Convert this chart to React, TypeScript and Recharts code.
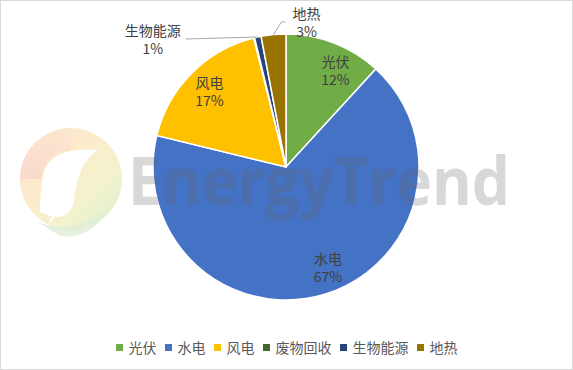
import { PieChart, Pie, Cell, Legend } from 'recharts'

const CATEGORIES = ['光伏', '水电', '风电', '废物回收', '生物能源', '地热']
const SHARES = [11.8, 67.0, 17.3, 0.1, 0.8, 3.0]
const COLOURS = ['#70AD47', '#4472C4', '#FFC000', '#43682B', '#264478', '#997300']

const FONT = '"Noto Sans CJK SC", "Noto Sans", sans-serif'
const TEXT = '#404040'
const RAD = Math.PI / 180

const data = CATEGORIES.map((name, i) => ({ name, value: SHARES[i] }))

// hand-placed label tweaks (excel moved these around)
const INSIDE_NUDGE: Record<string, [number, number]> = {
  光伏: [11, 2],
  水电: [11, -2],
  风电: [-1, -1],
}
const OUTSIDE: Record<string, { text: [number, number]; line: [number, number][] }> = {
  生物能源: { text: [-105, 2], line: [[-72, 2]] },
  地热: { text: [33, -13], line: [[8, -12.6], [12, -12.6]] },
}

function renderLabel(props: any) {
  const { cx, cy, midAngle, outerRadius, percent, name } = props
  const pct = `${Math.round(percent * 100)}%`
  const cos = Math.cos(-midAngle * RAD)
  const sin = Math.sin(-midAngle * RAD)

  const twoLines = (x: number, y: number) => (
    <>
      <text x={x} y={y - 3} textAnchor="middle" fill={TEXT} fontSize={14} fontFamily={FONT}>{name}</text>
      <text x={x} y={y + 15} textAnchor="middle" fill={TEXT} fontSize={14} fontFamily={FONT}>{pct}</text>
    </>
  )

  if (INSIDE_NUDGE[name]) {
    const [nx, ny] = INSIDE_NUDGE[name]
    const r = outerRadius * 0.8
    return <g key={name}>{twoLines(cx + r * cos + nx, cy + r * sin + ny)}</g>
  }
  const out = OUTSIDE[name]
  if (!out) return null
  const px = cx + outerRadius * cos
  const py = cy + outerRadius * sin
  const pts = [[px, py], ...out.line.map(([dx, dy]) => [px + dx, py + dy])]
  return (
    <g key={name}>
      <polyline points={pts.map((p) => p.join(',')).join(' ')} fill="none" stroke="#a6a6a6" strokeWidth={1} />
      {twoLines(px + out.text[0], py + out.text[1])}
    </g>
  )
}

function LegendRow() {
  return (
    <div style={{ display: 'flex', justifyContent: 'center', alignItems: 'center', fontFamily: FONT, fontSize: 14, color: '#595959', height: 18 }}>
      {CATEGORIES.map((c, i) => (
        <div key={c} style={{ display: 'flex', alignItems: 'center', marginRight: i < CATEGORIES.length - 1 ? 8 : 0 }}>
          <span style={{ width: 7, height: 7, background: COLOURS[i], marginRight: 6, display: 'inline-block' }} />
          <span style={{ lineHeight: '18px' }}>{c}</span>
        </div>
      ))}
    </div>
  )
}

function Watermark() {
  return (
    <svg width={573} height={370} style={{ position: 'absolute', left: 0, top: 0, pointerEvents: 'none' }}>
      <defs>
        <linearGradient id="ring" x1="0" y1="0" x2="1" y2="1">
          <stop offset="0%" stopColor="#fbe2d0" />
          <stop offset="40%" stopColor="#fdeccc" />
          <stop offset="70%" stopColor="#f1f3cd" />
          <stop offset="100%" stopColor="#dcebd4" />
        </linearGradient>
        <linearGradient id="ringLeft" x1="0" y1="0" x2="0" y2="1">
          <stop offset="0%" stopColor="#fde7cf" />
          <stop offset="100%" stopColor="#f8d6cc" />
        </linearGradient>
      </defs>
      <circle cx={71} cy={179} r={51} fill="url(#ring)" />
      <path d="M 20 179 A 51 51 0 0 1 71 128 L 71 150 A 29 29 0 0 0 42 179 Z" fill="url(#ringLeft)" opacity={0.8} />
      <path d="M 42 182 Q 44 146 98 150 Q 78 162 74 200 Q 70 226 40 212 Q 40 196 42 182 Z" fill="#fff" />
      <path d="M 82 166 Q 66 196 50 222" fill="none" stroke="#fff" strokeWidth={2} />
      <path d="M 38 222 Q 70 236 108 210 Q 90 240 60 236 Z" fill="#dfeed6" opacity={0.8} />
      <text
        x={128}
        y={205}
        fontSize={66}
        fontWeight={700}
        fontFamily='"Open Sans", "DejaVu Sans", sans-serif'
        textLength={382}
        lengthAdjust="spacingAndGlyphs"
        fill="#666666"
        opacity={0.25}
      >
        EnergyTrend
      </text>
    </svg>
  )
}

export default function App() {
  return (
    <div
      style={{
        position: 'absolute',
        left: 0,
        top: 0,
        width: 573,
        height: 370,
        boxSizing: 'border-box',
        border: '1px solid #d9d9d9',
        background: '#fff',
      }}
    >
      <div style={{ position: 'absolute', left: -1, top: -1 }}>
        <PieChart width={573} height={370} margin={{ top: 0, right: 0, bottom: 0, left: 0 }}>
          <Pie
            data={data}
            dataKey="value"
            nameKey="name"
            cx={286}
            cy={167}
            outerRadius={133}
            startAngle={90}
            endAngle={-270}
            stroke="#ffffff"
            strokeWidth={1.5}
            label={renderLabel}
            labelLine={false}
            isAnimationActive={false}
          >
            {data.map((d, i) => (
              <Cell key={d.name} fill={COLOURS[i]} />
            ))}
          </Pie>
          <Legend content={() => <LegendRow />} wrapperStyle={{ top: 338, left: 0, width: 573 }} />
        </PieChart>
      </div>
      <div style={{ position: 'absolute', left: -1, top: -1 }}>
        <Watermark />
      </div>
    </div>
  )
}
